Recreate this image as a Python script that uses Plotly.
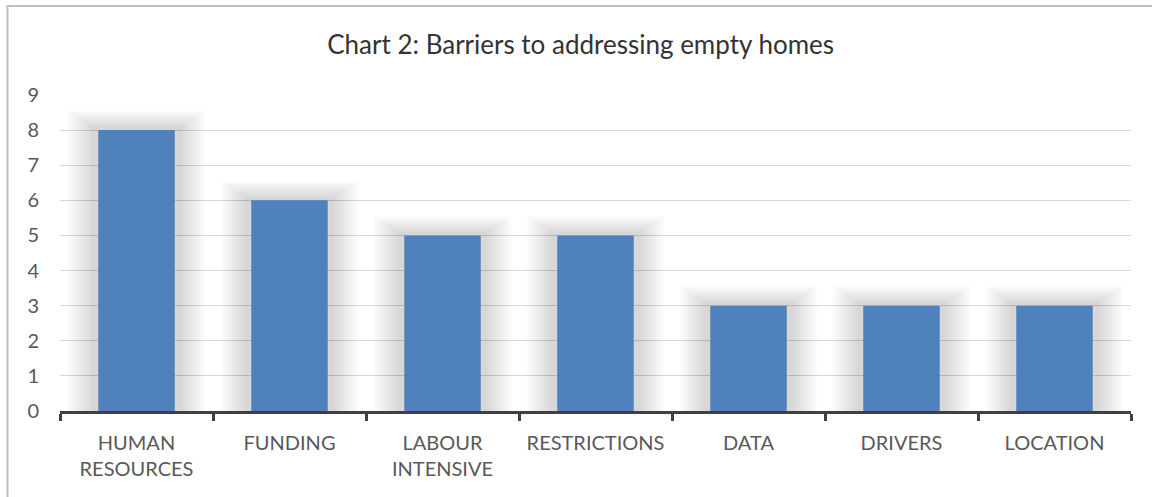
import plotly.graph_objects as go

categories = ["HUMAN<br>RESOURCES", "FUNDING", "LABOUR<br>INTENSIVE", "RESTRICTIONS", "DATA", "DRIVERS", "LOCATION"]
values = [8, 6, 5, 5, 3, 3, 3]
y_ticks = [0, 1, 2, 3, 4, 5, 6, 7, 8, 9]

fig = go.Figure()

# soft shadow layers behind bars
n = 10
for i in range(n):
    w = 0.9 - i * 0.035
    d = 0.55 - i * 0.05
    fig.add_trace(go.Bar(
        x=categories, y=[v + d for v in values], width=w,
        marker=dict(color="rgba(0,0,0,0.014)", line=dict(width=0)),
        hoverinfo="skip", showlegend=False,
    ))

fig.add_trace(go.Bar(
    x=categories, y=values, width=0.5,
    marker=dict(color="#4F81BD", line=dict(width=0)),
    showlegend=False,
))

W, H = 1152, 497
L, R, T, B = 60, 21, 95, 86
pw, ph = W - L - R, H - T - B

def px(x):
    return (x - L) / pw

def py(y):
    return (H - B - y) / ph

fig.update_layout(
    width=W, height=H,
    margin=dict(l=L, r=R, t=T, b=B),
    paper_bgcolor="white", plot_bgcolor="white",
    barmode="overlay",
    font=dict(family="Lato, Open Sans, sans-serif", color="#595959"),
    title=dict(text="Chart 2: Barriers to addressing empty homes",
               x=0.504, xanchor="center", y=1 - 45 / H, yanchor="middle",
               font=dict(size=26, color="#333333", family="Lato, Open Sans, sans-serif")),
    xaxis=dict(
        type="category", showgrid=False,
        showline=True, linecolor="#404040", linewidth=2.5,
        ticks="outside", tickson="boundaries", ticklen=7, tickwidth=2.5, tickcolor="#404040",
        tickfont=dict(size=20, color="#595959"), ticklabelstandoff=12,
    ),
    yaxis=dict(
        range=[0, 9], tickvals=y_ticks, ticktext=[str(t) for t in y_ticks],
        showgrid=True, gridcolor="#d9d9d9", gridwidth=1.3,
        zeroline=False, showline=False, ticks="",
        tickfont=dict(size=20, color="#595959"), ticklabelstandoff=20,
    ),
    bargap=0.5,
    shapes=[dict(type="rect", xref="paper", yref="paper",
                 x0=px(7.5), x1=px(1160), y0=py(510), y1=py(6),
                 line=dict(color="#bfbfbf", width=2), fillcolor="rgba(0,0,0,0)", layer="below")],
)

fig.write_html("out.html")
